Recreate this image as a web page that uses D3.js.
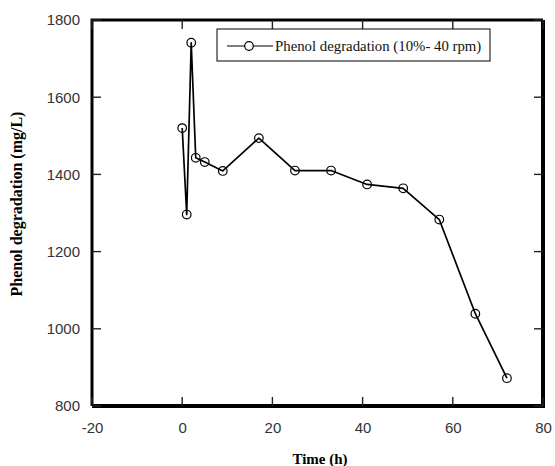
<!DOCTYPE html>
<html>
<head>
<meta charset="utf-8">
<script src="https://cdn.jsdelivr.net/npm/d3@7"></script>
<style>
  body { margin: 0; background: #fff; }
  svg { display: block; }
</style>
</head>
<body>
<div id="chart"></div>
<script>
// values
const timeH = [0, 1, 2, 3, 5, 9, 17, 25, 33, 41, 49, 57, 65, 72];
const phenol = [1520, 1296, 1741, 1443, 1432, 1409, 1494, 1410, 1410, 1374, 1364, 1283, 1039, 872];
const xTicks = [-20, 0, 20, 40, 60, 80];
const yTicks = [800, 1000, 1200, 1400, 1600, 1800];
const seriesName = "Phenol degradation (10%- 40 rpm)";

const W = 555, H = 466;
const margin = {top: 20, right: 12, bottom: 60, left: 92};
const iw = W - margin.left - margin.right;
const ih = H - margin.top - margin.bottom;
const TICK = 9;

const svg = d3.select("#chart").append("svg")
    .attr("width", W)
    .attr("height", H);

const g = svg.append("g")
    .attr("transform", "translate(" + margin.left + "," + margin.top + ")");

const x = d3.scaleLinear().domain([-20, 80]).range([0, iw]);
const y = d3.scaleLinear().domain([800, 1800]).range([ih, 0]);

// plain numbers with an ascii hyphen, like the original
const fmt = d => String(d);

function labelStyle(s) {
    s.select(".domain").remove();
    s.selectAll(".tick line").remove();
    s.selectAll("text")
        .attr("font-family", "Liberation Sans, Arial, sans-serif")
        .attr("font-size", 15).attr("fill", "#333");
}

g.append("g")
    .attr("transform", "translate(0," + ih + ")")
    .call(d3.axisBottom(x).tickValues(xTicks).tickFormat(fmt).tickSize(0).tickPadding(16))
    .call(labelStyle);

g.append("g")
    .call(d3.axisLeft(y).tickValues(yTicks).tickFormat(fmt).tickSize(0).tickPadding(12))
    .call(labelStyle);

// frame
g.append("path")
    .attr("d", "M0," + ih + "V0H" + iw)
    .attr("fill", "none").attr("stroke", "#000").style("stroke-width", "3px");
g.append("path")
    .attr("d", "M0," + ih + "H" + iw + "V0")
    .attr("fill", "none").attr("stroke", "#000").style("stroke-width", "4px");

// inner ticks on all four sides
const xt = xTicks.flatMap(v => [{v: v, side: "b"}, {v: v, side: "t"}]);
g.selectAll("line.xt")
    .data(xt)
    .enter().append("line")
    .attr("class", "xt")
    .attr("x1", d => x(d.v)).attr("x2", d => x(d.v))
    .attr("y1", d => d.side === "b" ? ih : 0)
    .attr("y2", d => d.side === "b" ? ih - TICK : TICK)
    .attr("stroke", "#222").style("stroke-width", "1.4px");

const yt = yTicks.flatMap(v => [{v: v, side: "l"}, {v: v, side: "r"}]);
g.selectAll("line.yt")
    .data(yt)
    .enter().append("line")
    .attr("class", "yt")
    .attr("y1", d => y(d.v)).attr("y2", d => y(d.v))
    .attr("x1", d => d.side === "l" ? 0 : iw)
    .attr("x2", d => d.side === "l" ? TICK : iw - TICK)
    .attr("stroke", "#222").style("stroke-width", "1.4px");

// series
const pts = timeH.map((t, i) => ({t: t, v: phenol[i]}));
const line = d3.line().x(d => x(d.t)).y(d => y(d.v));

g.append("path")
    .datum(pts)
    .attr("d", line)
    .attr("fill", "none")
    .attr("stroke", "#000")
    .attr("stroke-width", 1.7)
    .attr("stroke-linejoin", "round");

g.selectAll("circle.pt")
    .data(pts)
    .enter().append("circle")
    .attr("class", "pt")
    .attr("cx", d => x(d.t))
    .attr("cy", d => y(d.v))
    .attr("r", 4.3)
    .attr("fill", "none")
    .attr("stroke", "#000")
    .attr("stroke-width", 1.2);

// legend
const lg = svg.append("g").attr("transform", "translate(217,29)");
lg.append("rect")
    .attr("width", 273).attr("height", 32)
    .attr("fill", "#fff").attr("stroke", "#000").attr("stroke-width", 1);
lg.append("line")
    .attr("x1", 10).attr("x2", 56).attr("y1", 17).attr("y2", 17)
    .attr("stroke", "#000").attr("stroke-width", 1);
lg.append("circle")
    .attr("cx", 32).attr("cy", 17).attr("r", 4.3)
    .attr("fill", "#fff").attr("stroke", "#000").attr("stroke-width", 1.2);
lg.append("text")
    .attr("x", 58).attr("y", 22)
    .attr("font-family", "Liberation Serif, Times New Roman, serif")
    .attr("font-size", 14.8)
    .attr("fill", "#111")
    .text(seriesName);

// axis titles
svg.append("text")
    .attr("x", 320).attr("y", 464)
    .attr("text-anchor", "middle")
    .attr("font-family", "Liberation Serif, Times New Roman, serif")
    .attr("font-weight", "bold").attr("font-size", 15)
    .text("Time (h)");

svg.append("text")
    .attr("transform", "translate(22,204)rotate(-90)")
    .attr("text-anchor", "middle")
    .attr("font-family", "Liberation Serif, Times New Roman, serif")
    .attr("font-weight", "bold").attr("font-size", 16)
    .text("Phenol degradation (mg/L)");
</script>
</body>
</html>
